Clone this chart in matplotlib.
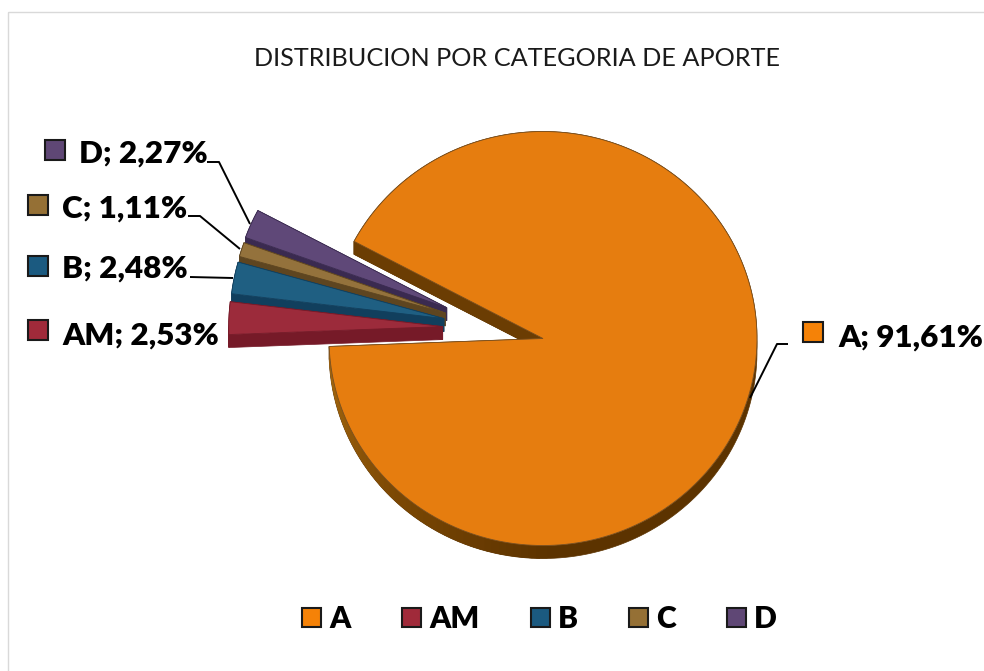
import numpy as np
import matplotlib
matplotlib.use("Agg")
import matplotlib.pyplot as plt
from matplotlib.colors import to_rgb
from matplotlib.patches import Polygon, Rectangle

categories = ["A", "AM", "B", "C", "D"]
shares = [91.61, 2.53, 2.48, 1.11, 2.27]
share_labels = ["A; 91,61%", "AM; 2,53%", "B; 2,48%", "C; 1,11%", "D; 2,27%"]

TOP = ["#E67D0F", "#9C2B3B", "#1F5F82", "#94723C", "#5F4878"]
SIDE = ["#6B3D03", "#761A28", "#113F5D", "#5E4520", "#3A2A50"]
KEY = ["#F58207", "#A02A3A", "#1B5A80", "#957035", "#5F4775"]

CX, CY = 543, 338.5      # pie centre in pixels
RX, RY = 214, 207
DEPTH = 13
START = 152.0            # slice A starts here and runs clockwise
EXPLODE = 101            # pixels for the pulled out slices

plt.rcParams["font.family"] = ["Lato", "DejaVu Sans"]


def slice_outline(a0, a1, ox=0.0, oy=0.0):
    # a0 > a1, clockwise from a0 to a1
    n = max(int(abs(a0 - a1) / 1.5), 4)
    t = np.radians(np.linspace(a0, a1, n))
    xs = CX + ox + RX * np.cos(t)
    ys = CY + oy - RY * np.sin(t)
    return np.vstack([[CX + ox, CY + oy], np.column_stack([xs, ys])])


def draw_slice(ax, pts, top, side, edge):
    # side faces first, shifted down by DEPTH, the top face goes over them
    shift = np.array([0, DEPTH])
    arc = pts[1:]
    band = np.vstack([arc, (arc + shift)[::-1]])
    ax.add_patch(Polygon(band, closed=True, fc=side, ec=side, lw=0.5))
    for p, q in [(pts[0], pts[1]), (pts[0], pts[-1])]:
        ax.add_patch(Polygon([p, q, q + shift, p + shift], closed=True,
                             fc=side, ec=side, lw=0.5))
    ax.add_patch(Polygon(pts, closed=True, fc=top, ec=edge, lw=0.6))


def rim_shading(ax, a0, a1):
    # the rim of the big slice gets lighter towards the left
    stops = [182, 225, 270]
    cols = np.array([to_rgb(c) for c in ["#A86A10", "#7C4804", "#5C3300"]])
    angles = np.arange(a1, 270, 2.0)
    for ang in angles:
        t = np.radians([ang, ang + 3])
        xs = CX + RX * np.cos(t)
        ys = CY - RY * np.sin(t)
        quad = [(xs[0], ys[0]), (xs[1], ys[1]),
                (xs[1], ys[1] + DEPTH), (xs[0], ys[0] + DEPTH)]
        rgb = [np.interp(ang, stops, cols[:, k]) for k in range(3)]
        ax.add_patch(Polygon(quad, closed=True, fc=rgb, ec="none"))


fig = plt.figure(figsize=(9.84, 6.71), dpi=100)
ax = fig.add_axes([0, 0, 1, 1])
ax.set_xlim(0, 984)
ax.set_ylim(671, 0)
ax.axis("off")

# chart frame, cropped on the right and bottom
ax.add_patch(Rectangle((8, 12), 1100, 800, fc="none", ec="#D9D9D9", lw=1.0))

sweeps = [s / sum(shares) * 360 for s in shares]
a = START
edges = []
for sw in sweeps:
    edges.append((a, a - sw))
    a -= sw

# main slice
main_pts = slice_outline(*edges[0])
draw_slice(ax, main_pts, "none", "#5C3300", "none")
ax.add_patch(Polygon([main_pts[0], main_pts[1], main_pts[1] + [0, DEPTH], main_pts[0] + [0, DEPTH]],
                     closed=True, fc=SIDE[0], ec=SIDE[0], lw=0.5))
rim_shading(ax, edges[0][0], edges[0][1] + 360)
ax.add_patch(Polygon(main_pts, closed=True, fc=TOP[0], ec="#7A5020", lw=0.6))

# pulled out slices, back to front
for i in [4, 3, 2, 1]:
    a0 = edges[i][0] % 360
    a1 = a0 - sweeps[i]
    mid = (a0 + a1) / 2
    direction = np.radians(173.2 + 0.51 * (mid - 177.6))
    ox = EXPLODE * np.cos(direction)
    oy = -EXPLODE * np.sin(direction)
    draw_slice(ax, slice_outline(a0, a1, ox, oy), TOP[i], SIDE[i], SIDE[i])

# leader lines
leaders = [
    ([788, 777, 750], [344, 344, 398]),
    ([190, 233], [277, 278]),
    ([188, 200, 240], [216, 216, 249]),
    ([207, 219, 250], [162, 162, 224]),
]
for xs, ys in leaders:
    ax.plot(xs, ys, color="black", lw=1.4, solid_capstyle="butt")

# data labels with their key squares
label_keys = [(803, 322), (28, 320), (28, 256), (28, 195), (45, 140)]
label_text = [(838, 338), (62, 336), (62, 269), (62, 209), (79, 154)]
for i in range(5):
    ax.add_patch(Rectangle(label_keys[i], 20, 20, fc=KEY[i], ec="#1A1A1A", lw=1.5))
    ax.text(*label_text[i], share_labels[i], fontsize=22.6, fontweight=800,
            ha="left", va="center", color="black")

# legend
legend_keys = [302, 402, 531, 629, 727]
for i, cat in enumerate(categories):
    ax.add_patch(Rectangle((legend_keys[i], 608), 19, 19, fc=KEY[i], ec="#1A1A1A", lw=1.5))
    ax.text(legend_keys[i] + 27, 619, cat, fontsize=21.6, fontweight=800,
            ha="left", va="center", color="black")

ax.text(517, 58, "DISTRIBUCION POR CATEGORIA DE APORTE", fontsize=18.2,
        ha="center", va="center", color="#1A1A1A")

fig.savefig("out.png", dpi=100)
